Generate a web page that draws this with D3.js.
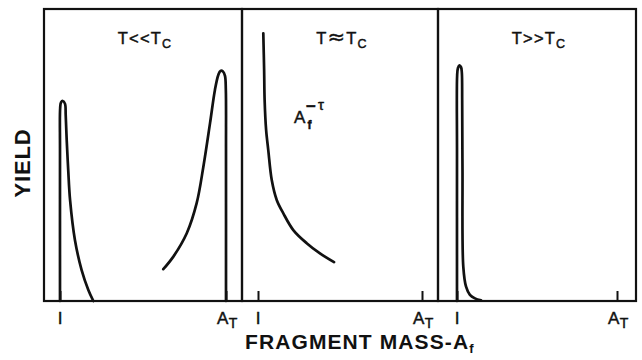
<!DOCTYPE html>
<html>
<head>
<meta charset="utf-8">
<script src="https://cdn.jsdelivr.net/npm/d3@7"></script>
<style>
  html, body { margin: 0; padding: 0; background: #fff; }
  svg { display: block; }
  text { font-family: "Liberation Sans", Arial, Helvetica, sans-serif; fill: #111; }
  .lbl { stroke: #111; stroke-width: 0.45; }
</style>
</head>
<body>
<svg id="chart" width="642" height="360"></svg>
<script>
// Fragment mass axis: I = single nucleon, A_T = target mass (arbitrary units)
const tickMasses = [1, 100];
const tickNames = ["I", "A"];
const tickSubs = ["", "T"];

// Panel headings (temperature regimes)
const regimeLeft = ["T", "T", "T"];
const regimeRelation = ["<<", "\u2248", ">>"];
const regimeRight = ["T", "T", "T"];
const regimeSubs = ["C", "C", "C"];

// Yield curves, [fragment mass, yield]
// T << Tc : light fragments near I and a heavy residue near A_T
const coldLight = [
  [1, 0], [1, 51.7], [1.1, 66.1], [1.6, 68.0], [2.7, 68.5], [4.0, 67.5],
  [4.4, 63.7], [5.0, 55.1], [5.9, 44.9], [7.0, 34.6], [9.9, 20.9],
  [13.9, 10.6], [17.9, 3.8], [20.9, 0]
];
const coldHeavy = [
  [62.6, 10.9], [68.6, 15.2], [76.6, 23.2], [82.5, 33.5], [86.5, 46.0],
  [90.5, 61.0], [93.4, 72.3], [95.4, 77.4], [96.7, 78.8], [98.2, 78.6],
  [99.4, 77.1], [99.9, 72.3], [100, 51.7], [100, 0]
];
// T ~ Tc : power law A_f^-tau
const criticalPowerLaw = [
  [4.2, 91.7], [4.7, 79.1], [5.0, 68.8], [5.9, 58.6], [7.2, 51.7],
  [9.3, 41.4], [12.3, 34.6], [16.3, 30.0], [22.3, 24.3], [30.4, 19.8],
  [38.4, 16.3], [46.9, 13.3]
];
// T >> Tc : vaporisation into the lightest fragments
const hotLight = [
  [1, 0], [1, 51.7], [1.1, 77.4], [1.6, 79.8], [2.5, 80.7], [3.5, 80.1],
  [4.0, 78.1], [4.2, 68.8], [4.4, 44.9], [4.9, 11.7], [6.6, 4.9],
  [9.0, 2.1], [12.1, 0.9], [15.9, 0.2]
];

const panelCurves = [[coldLight, coldHeavy], [criticalPowerLaw], [hotLight]];

// Layout
const panelEdges = [44, 242, 438, 636];
const tickInset = [16, 16, 19];
const frameTop = 9, frameBottom = 301;

const svg = d3.select("#chart");
const y = d3.scaleLinear().domain([0, 100]).range([frameBottom, frameTop]);

panelEdges.slice(0, 3).forEach((left, i) => {
  const right = panelEdges[i + 1];
  const x = d3.scaleLinear()
    .domain(tickMasses)
    .range([left + tickInset[i], right - tickInset[i]]);

  const g = svg.append("g");

  // Frame
  g.append("rect")
    .attr("x", left).attr("y", frameTop)
    .attr("width", right - left).attr("height", frameBottom - frameTop)
    .attr("fill", "none").attr("stroke", "#111").attr("stroke-width", 2.2);

  // Mass ticks, pointing up into the panel
  const axis = d3.axisTop(x).tickValues(tickMasses).tickSize(10).tickFormat("");
  const ag = g.append("g").attr("transform", `translate(0,${frameBottom})`).call(axis);
  ag.select(".domain").remove();
  ag.selectAll(".tick line").attr("stroke", "#111").attr("stroke-width", 2);

  // Tick labels
  tickMasses.forEach((m, k) => {
    const t = g.append("text")
      .attr("class", "lbl")
      .attr("x", x(m) + (k === 0 ? 0 : -9))
      .attr("y", 324)
      .attr("font-size", 17)
      .attr("text-anchor", k === 0 ? "middle" : "start");
    t.append("tspan").text(tickNames[k]);
    if (tickSubs[k]) {
      t.append("tspan").attr("dx", 0.5).attr("dy", 4).attr("font-size", 14).text(tickSubs[k]);
    }
  });

  // Regime heading
  const h = g.append("text")
    .attr("class", "lbl")
    .attr("x", (left + right) / 2 + 2)
    .attr("y", 44)
    .attr("font-size", 16.5)
    .attr("letter-spacing", 1.2)
    .attr("text-anchor", "middle");
  h.append("tspan").text(regimeLeft[i]);
  h.append("tspan")
    .attr("font-size", i === 1 ? 21 : 16.5)
    .attr("font-family", i === 1 ? "DejaVu Sans" : null)
    .text(regimeRelation[i]);
  h.append("tspan").text(regimeRight[i]);
  h.append("tspan").attr("dy", 4).attr("font-size", 12.5).text(regimeSubs[i]);

  // Yield curves
  const line = d3.line()
    .x(d => x(d[0]))
    .y(d => y(d[1]))
    .curve(d3.curveCatmullRom.alpha(0.5));

  panelCurves[i].forEach(series => {
    g.append("path")
      .datum(series)
      .attr("d", line)
      .attr("fill", "none")
      .attr("stroke", "#111")
      .attr("stroke-width", 2.7)
      .attr("stroke-linejoin", "round")
      .attr("stroke-linecap", "round");
  });
});

// Power-law annotation A_f^-tau
const ann = svg.append("g").attr("class", "lbl");
ann.append("text").attr("class", "lbl").attr("x", 294).attr("y", 123).attr("font-size", 17).text("A");
ann.append("text").attr("class", "lbl").attr("x", 307.5).attr("y", 128.5).attr("font-size", 12).attr("font-weight", "bold").text("f");
ann.append("text").attr("class", "lbl").attr("x", 306).attr("y", 112).attr("font-size", 17).attr("font-weight", "bold").text("\u2212");
ann.append("text").attr("class", "lbl").attr("x", 318).attr("y", 110).attr("font-size", 15).text("\u03C4");

// Axis titles
svg.append("text")
  .attr("transform", "translate(30,163) rotate(-90)")
  .attr("text-anchor", "middle")
  .attr("font-size", 22)
  .attr("font-weight", "bold")
  .attr("letter-spacing", 0.8)
  .text("YIELD");

const xt = svg.append("text")
  .attr("x", 245)
  .attr("y", 349)
  .attr("font-size", 21)
  .attr("font-weight", "bold");
xt.append("tspan").attr("letter-spacing", 1.1).text("FRAGMENT MASS-A");
xt.append("tspan").attr("dy", 4).attr("font-size", 13).text("f");
</script>
</body>
</html>
